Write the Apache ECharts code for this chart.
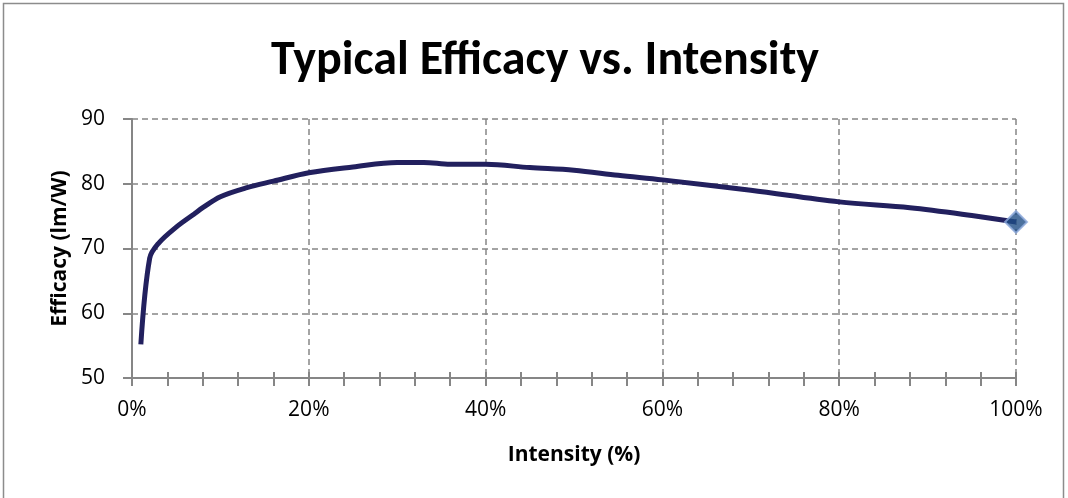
<!DOCTYPE html>
<html><head><meta charset="utf-8">
<script src="https://cdn.jsdelivr.net/npm/echarts@6/dist/echarts.min.js"></script>
<style>html,body{margin:0;padding:0;background:#fff}#c{width:1068px;height:498px}</style>
</head><body><div id="c"></div>
<script>
const intensity = [1, 2, 3, 5, 7, 8, 10, 13, 16, 20, 25, 30, 33, 36, 40, 45, 50, 55, 60, 70, 80, 88, 95, 100];
const efficacy  = [55.2, 68.5, 70.8, 73.3, 75.3, 76.3, 78.0, 79.4, 80.4, 81.7, 82.6, 83.3, 83.3, 83.0, 83.0, 82.5, 82.1, 81.3, 80.6, 79.0, 77.2, 76.3, 75.1, 74.1];
const yTicks = [50, 60, 70, 80, 90];
const xTicks = [0, 20, 40, 60, 80, 100];

const titleFont = "Carlito, Lato, sans-serif";
const font = "'Open Sans', sans-serif";
const gray = '#868686';
const chart = echarts.init(document.getElementById('c'));
const data = intensity.map((x, i) => [x, efficacy[i]]);
const last = data[data.length - 1];
chart.setOption({
  animation: false,
  title: {text: 'Typical Efficacy vs. Intensity', left: 540, textAlign: 'center', top: 33,
    textStyle: {fontFamily: titleFont, fontWeight: 'bold', fontSize: 48, color: '#000'}},
  graphic: [{type: 'rect', shape: {x: 3.5, y: 3.5, width: 1060, height: 520},
    style: {fill: 'none', stroke: '#8c8c8c', lineWidth: 1.5}, silent: true}],
  grid: {left: 132, right: 52, top: 119, bottom: 120},
  xAxis: [{
    type: 'value', min: xTicks[0], max: xTicks[xTicks.length - 1], interval: 20,
    name: 'Intensity (%)', nameLocation: 'middle', nameGap: 67,
    nameTextStyle: {fontFamily: font, fontWeight: 'bold', fontSize: 21, color: '#000'},
    axisLine: {lineStyle: {color: gray, width: 2}},
    axisTick: {show: true, length: 8, lineStyle: {color: gray, width: 2}},
    minorTick: {show: true, splitNumber: 5, length: 8, lineStyle: {color: gray, width: 2}},
    axisLabel: {formatter: v => v + '%', fontFamily: font, fontSize: 21, color: '#000', margin: 22},
    splitLine: {show: true, lineStyle: {color: gray, type: [6, 4], width: 1.5}}
  }, {
    type: 'value', min: xTicks[0], max: xTicks[xTicks.length - 1], interval: 20, position: 'bottom',
    axisLine: {show: false},
    axisTick: {show: true, inside: true, length: 6, lineStyle: {color: gray, width: 2}},
    minorTick: {show: true, splitNumber: 5, length: 6, lineStyle: {color: gray, width: 2}},
    axisLabel: {show: false}, splitLine: {show: false}
  }],
  yAxis: {
    type: 'value', min: yTicks[0], max: yTicks[yTicks.length - 1], interval: 10,
    name: 'Efficacy (lm/W)', nameLocation: 'middle', nameGap: 61,
    nameTextStyle: {fontFamily: font, fontWeight: 'bold', fontSize: 21, color: '#000'},
    axisLine: {show: true, lineStyle: {color: gray, width: 2}},
    axisTick: {show: true, length: 9, lineStyle: {color: gray, width: 2}},
    axisLabel: {fontFamily: font, fontSize: 21, color: '#000', margin: 27},
    splitLine: {show: true, lineStyle: {color: gray, type: [6, 4], width: 1.5}}
  },
  series: [{
    type: 'line', data: data, smooth: 0.35, showSymbol: false, symbol: 'none',
    lineStyle: {color: '#22205e', width: 5}, z: 3
  }, {
    type: 'scatter', data: [last], symbol: 'diamond', symbolSize: 22,
    itemStyle: {color: '#1f4e86', borderColor: '#8faadc', borderWidth: 2}, z: 4
  }]
});
</script></body></html>
